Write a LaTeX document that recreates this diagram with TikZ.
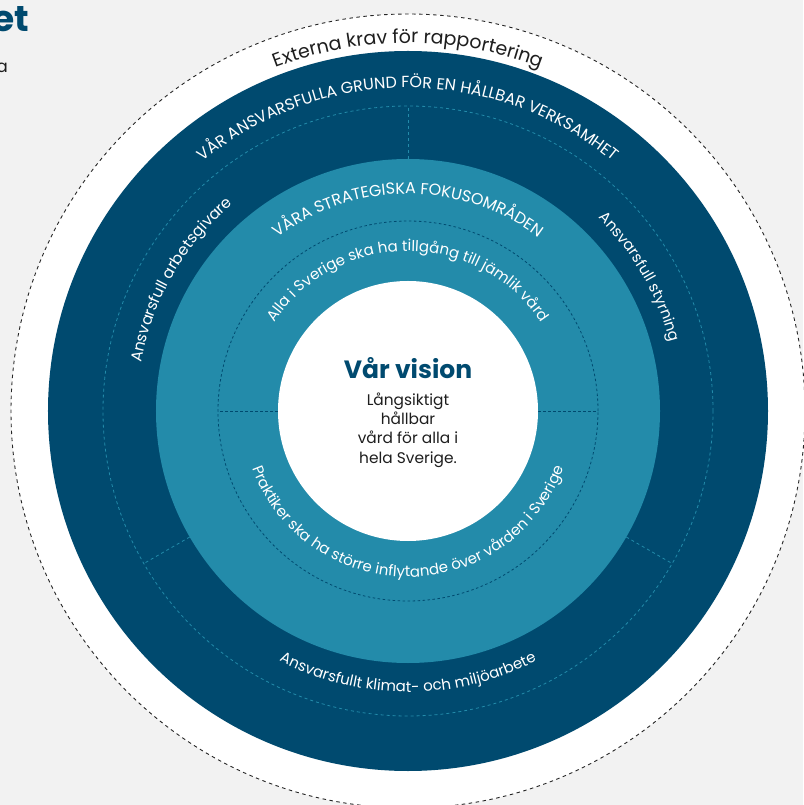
\documentclass[tikz,border=0pt]{standalone}
\usepackage{fontspec}
\setmainfont{Poppins}
\usetikzlibrary{decorations.text}
\definecolor{bgc}{HTML}{F2F2F2}
\definecolor{darkb}{HTML}{004A6F}
\definecolor{midb}{HTML}{238BAA}
\definecolor{txt}{HTML}{1E1E1E}
\begin{document}
\begin{tikzpicture}[x=1pt,y=1pt,
  outerdash/.style={draw=black!85, line width=0.9pt, dash pattern=on 3.5pt off 3.5pt},
  lightdash/.style={draw=midb, line width=0.8pt, dash pattern=on 3pt off 3pt},
  darkdash/.style={draw=darkb, line width=0.8pt, dash pattern=on 2.5pt off 2.5pt},
]
\useasboundingbox (-408,-394) rectangle (395,411);
\fill[bgc] (-408,-394) rectangle (395,411);
% outer white ring
\fill[white] (0,0) circle (397);
\path[outerdash] (0,0) circle (397);
% dark ring
\fill[darkb] (0,0) circle (360);
\path[lightdash] (0,0) circle (305);
\path[lightdash] (90:252) -- (90:305);
\path[lightdash] (210:252) -- (210:305);
\path[lightdash] (330:252) -- (330:305);
% middle ring
\fill[midb] (0,0) circle (252);
\path[darkdash] (0,0) circle (190);
\path[darkdash] (180:130) -- (180:190);
\path[darkdash] (0:130) -- (0:190);
% centre
\fill[white] (0,0) circle (130);

% curved texts
\path[decorate, decoration={text along path, text align=center,
  text={|\fontsize{19}{19}\selectfont\color{txt}|Externa krav för rapportering}}]
  (150:368) arc[start angle=150, end angle=30, radius=368];
\path[decorate, decoration={text along path, text align=center,
  text={|\fontsize{16}{16}\selectfont\color{white}|VÅR ANSVARSFULLA GRUND FÖR EN HÅLLBAR VERKSAMHET}}]
  (165:323) arc[start angle=165, end angle=15, radius=323];
\path[decorate, decoration={text along path, text align=center,
  text={|\fontsize{15.5}{15.5}\selectfont\color{white}|Ansvarsfull arbetsgivare}}]
  (200:271) arc[start angle=200, end angle=100, radius=271];
\path[decorate, decoration={text along path, text align=center,
  text={|\fontsize{15}{15}\selectfont\color{white}|Ansvarsfull styrning}}]
  (78:271) arc[start angle=78, end angle=-18, radius=271];
\path[decorate, decoration={text along path, text align=center,
  text={|\fontsize{15}{15}\selectfont\color{white}|Ansvarsfullt klimat- och miljöarbete}}]
  (200:281) arc[start angle=200, end angle=340, radius=281];
\path[decorate, decoration={text along path, text align=center,
  text={|\fontsize{16}{16}\selectfont\color{white}|VÅRA STRATEGISKA FOKUSOMRÅDEN}}]
  (165:217) arc[start angle=165, end angle=15, radius=217];
\path[decorate, decoration={text along path, text align=center,
  text={|\fontsize{15}{15}\selectfont\color{white}|Alla i Sverige ska ha tillgång till jämlik vård}}]
  (178:160) arc[start angle=178, end angle=2, radius=160];
\path[decorate, decoration={text along path, text align=center,
  text={|\fontsize{15}{15}\selectfont\color{white}|Praktiker ska ha större inflytande över vården i Sverige}}]
  (182:166) arc[start angle=182, end angle=358, radius=166];

% vision
\node[text=darkb, font=\fontsize{25}{25}\selectfont\bfseries] (vtitle) at (0,43) {Vår vision};
\node[text=txt, align=center, font=\fontsize{15.4}{19.2}\selectfont] (vbody) at (0,-19)
  {Långsiktigt\\hållbar\\vård för alla i\\hela Sverige.};

% cut-off texts at top left
\node[text=darkb, font=\fontsize{36}{36}\selectfont\bfseries, anchor=base east, inner sep=0pt] (ttl) at (-379,379) {et};
\node[text=txt, font=\fontsize{17}{17}\selectfont, anchor=base east, inner sep=0pt] (sub) at (-400,338) {a};
\end{tikzpicture}
\end{document}
